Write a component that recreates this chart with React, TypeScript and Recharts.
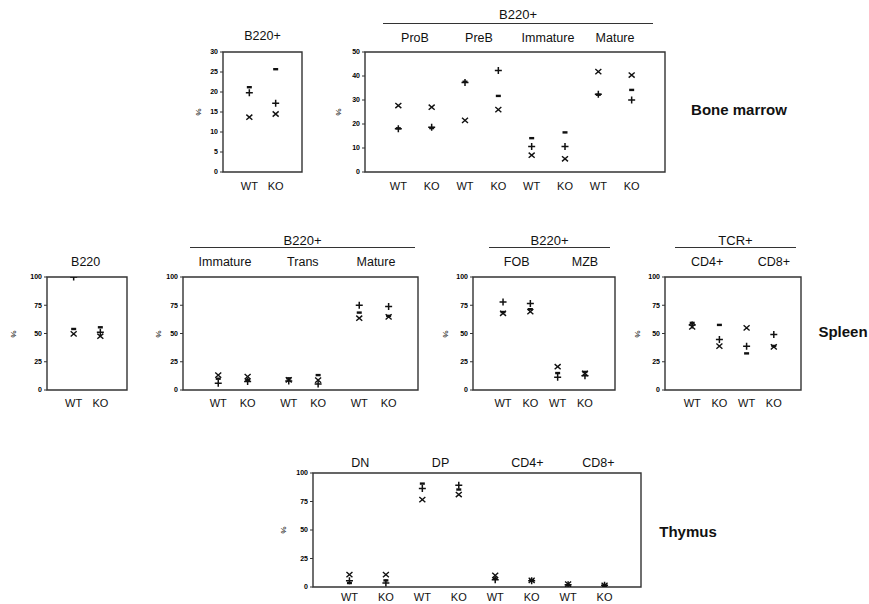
import React from "react";
import { ScatterChart, Scatter, XAxis, YAxis, ReferenceArea } from "recharts";

// Bone marrow, B220+ total
const bmTotalCats = ["WT", "KO"];
const bmTotalGroups = ["B220+"];
const bmTotalCross = [13.7, 14.5];
const bmTotalPlus = [19.8, 17.2];
const bmTotalDash = [21.2, 25.7];

// Bone marrow, B220+ subsets
const bmSubCats = ["WT", "KO", "WT", "KO", "WT", "KO", "WT", "KO"];
const bmSubGroups = ["ProB", "PreB", "Immature", "Mature"];
const bmSubCross = [27.7, 27.0, 21.5, 26.0, 7.0, 5.5, 41.8, 40.4];
const bmSubPlus = [18.0, 18.6, 37.3, 42.3, 10.6, 10.6, 32.4, 30.0];
const bmSubDash = [18.2, 18.3, 37.6, 31.7, 14.1, 16.5, 32.2, 34.2];

// Spleen, B220
const spTotalCats = ["WT", "KO"];
const spTotalGroups = ["B220"];
const spTotalCross = [49.7, 47.6];
const spTotalPlus = [100, 51.0];
const spTotalDash = [54.0, 55.5];

// Spleen, B220+ maturation
const spSubCats = ["WT", "KO", "WT", "KO", "WT", "KO"];
const spSubGroups = ["Immature", "Trans", "Mature"];
const spSubCross = [13.2, 11.8, 9.0, 8.8, 63.5, 64.7];
const spSubPlus = [5.9, 7.6, 8.0, 5.3, 75.0, 73.8];
const spSubDash = [10.0, 9.0, 10.3, 13.2, 68.5, 65.6];

// Spleen, FOB / MZB
const spFoCats = ["WT", "KO", "WT", "KO"];
const spFoGroups = ["FOB", "MZB"];
const spFoCross = [67.9, 69.4, 20.6, 14.7];
const spFoPlus = [77.9, 76.5, 11.2, 12.6];
const spFoDash = [69.0, 71.5, 15.0, 16.0];

// Spleen, TCR+
const spTCats = ["WT", "KO", "WT", "KO"];
const spTGroups = ["CD4+", "CD8+"];
const spTCross = [55.9, 38.8, 55.0, 38.2];
const spTPlus = [57.5, 44.7, 38.8, 49.1];
const spTDash = [59.4, 57.6, 32.4, 39.0];

// Thymus
const thyCats = ["WT", "KO", "WT", "KO", "WT", "KO", "WT", "KO"];
const thyGroups = ["DN", "DP", "CD4+", "CD8+"];
const thyCross = [10.8, 10.8, 76.7, 81.1, 10.2, 5.8, 2.5, 1.5];
const thyPlus = [5.5, 3.5, 86.3, 89.2, 6.4, 5.5, 2.0, 1.5];
const thyDash = [3.5, 5.8, 90.7, 85.5, 7.5, 6.0, 1.5, 1.2];

const tick30 = [0, 5, 10, 15, 20, 25, 30];
const tick50 = [0, 10, 20, 30, 40, 50];
const tick100 = [0, 25, 50, 75, 100];

const FONT = "'Liberation Sans', Arial, sans-serif";
const INK = "#111";

const CrossMark = (p: any) => {
  const { cx, cy } = p;
  if (cx == null || cy == null) return <g />;
  return (
    <path
      d={`M${cx - 3},${cy - 2.6}L${cx + 3},${cy + 2.6}M${cx - 3},${cy + 2.6}L${cx + 3},${cy - 2.6}`}
      stroke={INK}
      strokeWidth={1.4}
      fill="none"
    />
  );
};

const PlusMark = (p: any) => {
  const { cx, cy } = p;
  if (cx == null || cy == null) return <g />;
  return (
    <path
      d={`M${cx - 3.5},${cy}H${cx + 3.5}M${cx},${cy - 3.5}V${cy + 3.5}`}
      stroke={INK}
      strokeWidth={1.5}
      fill="none"
    />
  );
};

const DashMark = (p: any) => {
  const { cx, cy } = p;
  if (cx == null || cy == null) return <g />;
  return <rect x={cx - 2.5} y={cy - 1.2} width={5} height={2.4} fill={INK} />;
};

const NoMark = () => <g />;

type PanelProps = {
  left: number;
  top: number;
  w: number;
  h: number;
  yMax: number;
  yTicks: number[];
  xDomain: [number, number];
  slots: number[];
  cats: string[];
  groupPos: number[];
  groups: string[];
  cross: number[];
  plus: number[];
  dash: number[];
  topGap: number;
  bottomGap: number;
  pctOffset: number;
};

const AXW = 40;
const TOPH = 26;
const BOTH = 24;

function Panel(props: PanelProps) {
  const { left, top, w, h, yMax, yTicks, xDomain, slots, cats, groupPos, groups } = props;
  const pts = (vals: number[]) => vals.map((v, i) => ({ x: slots[i], y: v }));
  const anchors = groupPos.map((g) => ({ x: g, y: 0 }));
  return (
    <>
      <div style={{ position: "absolute", left: left - AXW, top: top - TOPH }}>
        <ScatterChart
          width={AXW + w + 6}
          height={TOPH + h + BOTH}
          margin={{ top: 0, right: 6, bottom: 0, left: 0 }}
          style={{ overflow: "visible" }}
        >
          <XAxis
            xAxisId="b"
            type="number"
            dataKey="x"
            domain={xDomain}
            ticks={slots}
            interval={0}
            allowDataOverflow
            tickFormatter={(v) => cats[slots.indexOf(v)] ?? ""}
            axisLine={false}
            tickLine={false}
            tickSize={0}
            tickMargin={props.bottomGap}
            height={BOTH}
            tick={{ fontSize: 11, fill: INK, fontFamily: FONT }}
          />
          <XAxis
            xAxisId="t"
            orientation="top"
            type="number"
            dataKey="x"
            domain={xDomain}
            ticks={groupPos}
            interval={0}
            allowDataOverflow
            tickFormatter={(v) => groups[groupPos.indexOf(v)] ?? ""}
            axisLine={false}
            tickLine={false}
            tickSize={0}
            tickMargin={props.topGap}
            height={TOPH}
            tick={{ fontSize: 12.5, fill: INK, fontFamily: FONT }}
          />
          <YAxis
            type="number"
            dataKey="y"
            domain={[0, yMax]}
            ticks={yTicks}
            interval={0}
            allowDataOverflow
            width={AXW}
            axisLine={false}
            tickSize={3}
            tickMargin={2}
            tickLine={{ stroke: "#333" }}
            tick={{ fontSize: 7, fill: "#000", fontFamily: FONT, fontWeight: 700 }}
          />
          <ReferenceArea
            xAxisId="b"
            x1={xDomain[0]}
            x2={xDomain[1]}
            y1={0}
            y2={yMax}
            fill="none"
            stroke="#333"
            strokeWidth={1.4}
            ifOverflow="visible"
          />
          <Scatter xAxisId="t" data={anchors} shape={NoMark} isAnimationActive={false} legendType="none" />
          <Scatter xAxisId="b" data={pts(props.cross)} shape={CrossMark} isAnimationActive={false} />
          <Scatter xAxisId="b" data={pts(props.plus)} shape={PlusMark} isAnimationActive={false} />
          <Scatter xAxisId="b" data={pts(props.dash)} shape={DashMark} isAnimationActive={false} />
        </ScatterChart>
      </div>
      <div
        style={{
          position: "absolute",
          left: left - props.pctOffset,
          top: top + h / 2,
          transform: "translate(-50%, -50%) rotate(90deg)",
          fontSize: 8,
          fontFamily: FONT,
          color: "#000",
        }}
      >
        %
      </div>
    </>
  );
}

function Header({ text, x1, x2, lineY, textY }: { text: string; x1: number; x2: number; lineY: number; textY: number }) {
  return (
    <>
      <div
        style={{
          position: "absolute",
          left: (x1 + x2) / 2,
          top: textY,
          transform: "translate(-50%, -50%)",
          fontSize: 13,
          fontFamily: FONT,
          color: INK,
          whiteSpace: "nowrap",
        }}
      >
        {text}
      </div>
      <div style={{ position: "absolute", left: x1, top: lineY, width: x2 - x1, height: 0, borderTop: "1.5px solid #333" }} />
    </>
  );
}

function Organ({ text, x, y }: { text: string; x: number; y: number }) {
  return (
    <div
      style={{
        position: "absolute",
        left: x,
        top: y,
        transform: "translate(-50%, -50%)",
        fontSize: 15,
        fontWeight: 700,
        fontFamily: FONT,
        color: INK,
        whiteSpace: "nowrap",
      }}
    >
      {text}
    </div>
  );
}

export default function App() {
  return (
    <div style={{ position: "absolute", left: 0, top: 0, width: 869, height: 604, background: "#fff", overflow: "hidden" }}>
      {/* Bone marrow row */}
      <Panel
        left={223} top={52} w={79} h={120} yMax={30} yTicks={tick30}
        xDomain={[0, 3]} slots={[1, 2]} cats={bmTotalCats}
        groupPos={[1.5]} groups={bmTotalGroups}
        cross={bmTotalCross} plus={bmTotalPlus} dash={bmTotalDash}
        topGap={12} bottomGap={10} pctOffset={25}
      />
      <Header text="B220+" x1={383} x2={653} lineY={23} textY={14} />
      <Panel
        left={365} top={52} w={300} h={120} yMax={50} yTicks={tick50}
        xDomain={[0, 9]} slots={[1, 2, 3, 4, 5, 6, 7, 8]} cats={bmSubCats}
        groupPos={[1.5, 3.42, 5.49, 7.5]} groups={bmSubGroups}
        cross={bmSubCross} plus={bmSubPlus} dash={bmSubDash}
        topGap={10} bottomGap={10} pctOffset={27}
      />
      <Organ text="Bone marrow" x={739} y={109} />

      {/* Spleen row */}
      <Panel
        left={47} top={277} w={80} h={113} yMax={100} yTicks={tick100}
        xDomain={[0, 3]} slots={[1, 2]} cats={spTotalCats}
        groupPos={[1.45]} groups={spTotalGroups}
        cross={spTotalCross} plus={spTotalPlus} dash={spTotalDash}
        topGap={11} bottomGap={9} pctOffset={34}
      />
      <Header text="B220+" x1={190} x2={415} lineY={247} textY={240} />
      <Panel
        left={183} top={277} w={235} h={113} yMax={100} yTicks={tick100}
        xDomain={[-0.2, 7.8]} slots={[1, 2, 3.4, 4.4, 5.8, 6.8]} cats={spSubCats}
        groupPos={[1.23, 3.88, 6.37]} groups={spSubGroups}
        cross={spSubCross} plus={spSubPlus} dash={spSubDash}
        topGap={11} bottomGap={9} pctOffset={25}
      />
      <Header text="B220+" x1={489} x2={610} lineY={247} textY={240} />
      <Panel
        left={473} top={277} w={142} h={113} yMax={100} yTicks={tick100}
        xDomain={[-0.1, 5.1]} slots={[1, 2, 3, 4]} cats={spFoCats}
        groupPos={[1.5, 4.0]} groups={spFoGroups}
        cross={spFoCross} plus={spFoPlus} dash={spFoDash}
        topGap={11} bottomGap={9} pctOffset={28}
      />
      <Header text="TCR+" x1={675} x2={796} lineY={247} textY={240} />
      <Panel
        left={665} top={277} w={136} h={113} yMax={100} yTicks={tick100}
        xDomain={[0, 5]} slots={[1, 2, 3, 4]} cats={spTCats}
        groupPos={[1.55, 4.0]} groups={spTGroups}
        cross={spTCross} plus={spTPlus} dash={spTDash}
        topGap={11} bottomGap={9} pctOffset={28}
      />
      <Organ text="Spleen" x={843} y={331} />

      {/* Thymus row */}
      <Panel
        left={313} top={473} w={328} h={114} yMax={100} yTicks={tick100}
        xDomain={[0, 9]} slots={[1, 2, 3, 4, 5, 6, 7, 8]} cats={thyCats}
        groupPos={[1.3, 3.5, 5.88, 7.83]} groups={thyGroups}
        cross={thyCross} plus={thyPlus} dash={thyDash}
        topGap={6} bottomGap={6} pctOffset={30}
      />
      <Organ text="Thymus" x={688} y={531} />
    </div>
  );
}
